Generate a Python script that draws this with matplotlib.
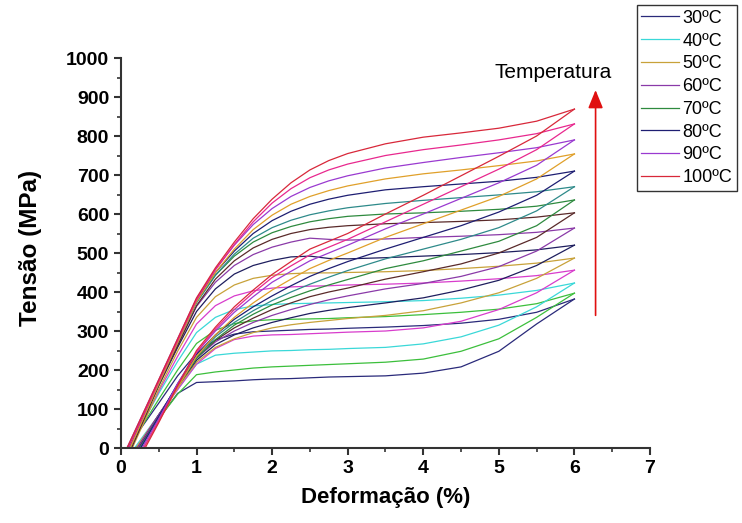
import matplotlib
matplotlib.use('Agg')
import matplotlib.pyplot as plt
from matplotlib.ticker import MultipleLocator

plt.rcParams['font.family'] = ['Liberation Sans', 'DejaVu Sans']

# strain grid (%) shared by all curves, start strain kept per curve
strain_grid = [0.5, 0.75, 1.0, 1.25, 1.5, 1.75, 2.0, 2.25, 2.5, 2.75, 3.0,
               3.5, 4.0, 4.5, 5.0, 5.5, 6.0]

temps = [30, 35, 40, 45, 50, 55, 60, 65, 70, 75, 80, 85, 90, 95, 100]
colors = ['#2a2a7a', '#3cbf3c', '#3ad8d8', '#d83ccc', '#c8a23a', '#1e1e5e',
          '#8a3aa8', '#5a2a2a', '#2e8a3e', '#2e8a8a', '#1e1e72', '#e0a02a',
          '#9a3ad0', '#e8288e', '#d8283a']

# upper branch (steep loading, high plateau)
start_b = [0.08, 0.10, 0.10, 0.12, 0.15, 0.12, 0.12, 0.14, 0.10, 0.12, 0.10, 0.12, 0.08, 0.10, 0.08]
stress_b = [
    [115, 185, 243, 277, 292, 298, 300, 302, 304, 305, 307, 310, 314, 320, 330, 348, 382],
    [125, 200, 268, 302, 319, 326, 329, 330, 331, 332, 334, 337, 342, 348, 356, 370, 397],
    [140, 222, 296, 335, 355, 364, 368, 370, 371, 372, 373, 375, 378, 384, 392, 404, 423],
    [145, 235, 318, 365, 390, 403, 410, 413, 415, 416, 418, 420, 423, 428, 434, 442, 456],
    [150, 248, 335, 388, 418, 435, 443, 447, 449, 449, 450, 452, 455, 460, 466, 474, 487],
    [160, 258, 350, 408, 446, 468, 481, 490, 492, 486, 485, 488, 492, 496, 501, 508, 520],
    [163, 265, 363, 425, 468, 496, 515, 528, 538, 535, 533, 536, 540, 543, 547, 553, 564],
    [160, 262, 365, 433, 480, 513, 535, 550, 560, 566, 570, 575, 578, 581, 585, 592, 603],
    [168, 272, 375, 443, 492, 528, 552, 568, 580, 588, 594, 600, 603, 607, 612, 620, 636],
    [165, 270, 372, 443, 497, 538, 565, 584, 598, 608, 616, 627, 635, 642, 649, 657, 670],
    [170, 275, 380, 450, 505, 550, 583, 607, 625, 638, 648, 662, 670, 677, 684, 694, 710],
    [165, 270, 375, 450, 510, 560, 597, 625, 645, 660, 672, 690, 703, 713, 724, 736, 754],
    [175, 280, 383, 458, 520, 573, 614, 645, 668, 685, 698, 718, 732, 745, 757, 770, 790],
    [170, 275, 380, 457, 522, 580, 628, 665, 693, 713, 728, 750, 765, 777, 790, 806, 831],
    [175, 280, 385, 462, 528, 588, 638, 680, 713, 737, 755, 780, 797, 808, 820, 838, 869],
]

# lower branch (softer slope, lower plateau, stronger hardening)
start_a = [0.22, 0.20, 0.18, 0.20, 0.20, 0.22, 0.22, 0.24, 0.26, 0.25, 0.26, 0.30, 0.28, 0.30, 0.32]
stress_a = [
    [75, 140, 168, 170, 172, 175, 177, 178, 180, 182, 183, 185, 192, 208, 248, 318, 382],
    [75, 138, 188, 195, 200, 205, 208, 210, 212, 214, 216, 220, 228, 248, 280, 335, 397],
    [85, 150, 215, 238, 243, 246, 249, 250, 252, 253, 255, 258, 267, 285, 315, 362, 423],
    [85, 150, 215, 255, 278, 287, 290, 291, 293, 295, 297, 300, 308, 325, 355, 398, 456],
    [85, 155, 220, 258, 280, 296, 308, 316, 322, 327, 332, 340, 352, 372, 398, 435, 487],
    [85, 158, 225, 265, 290, 308, 322, 334, 345, 353, 360, 372, 385, 405, 430, 468, 520],
    [85, 160, 230, 272, 300, 322, 340, 355, 368, 380, 390, 408, 422, 440, 465, 505, 564],
    [80, 160, 232, 276, 308, 333, 355, 372, 388, 400, 410, 433, 452, 472, 500, 540, 603],
    [78, 158, 230, 278, 315, 343, 367, 386, 403, 418, 432, 460, 480, 505, 530, 570, 636],
    [80, 162, 235, 285, 322, 352, 378, 400, 420, 438, 455, 485, 510, 535, 565, 608, 670],
    [80, 165, 240, 290, 330, 362, 390, 416, 440, 460, 478, 510, 540, 570, 605, 648, 710],
    [68, 155, 235, 290, 335, 372, 405, 433, 460, 481, 500, 540, 575, 610, 645, 690, 754],
    [75, 165, 245, 300, 348, 388, 425, 453, 480, 500, 520, 562, 600, 640, 680, 725, 790],
    [70, 160, 245, 305, 355, 398, 437, 467, 495, 515, 535, 580, 625, 670, 715, 765, 831],
    [65, 160, 250, 310, 362, 405, 445, 478, 510, 530, 550, 600, 648, 698, 748, 800, 869],
]

legend_temps = [30, 40, 50, 60, 70, 80, 90, 100]

fig = plt.figure(figsize=(7.42, 5.23), dpi=100)
ax = fig.add_axes([0.163, 0.1434, 0.713, 0.7457])

for i, t in enumerate(temps):
    xa = [start_a[i]] + strain_grid
    ya = [0] + stress_a[i]
    xb = [start_b[i]] + strain_grid
    yb = [0] + stress_b[i]
    lab = '%dºC' % t if t in legend_temps else None
    ax.plot(xa, ya, color=colors[i], lw=0.9)
    ax.plot(xb, yb, color=colors[i], lw=0.9, label=lab)

ax.set_xlim(0, 7)
ax.set_ylim(0, 1000)
ax.xaxis.set_major_locator(MultipleLocator(1))
ax.xaxis.set_minor_locator(MultipleLocator(0.5))
ax.yaxis.set_major_locator(MultipleLocator(100))
ax.yaxis.set_minor_locator(MultipleLocator(50))
for s in ['top', 'right']:
    ax.spines[s].set_visible(False)
for s in ['left', 'bottom']:
    ax.spines[s].set_linewidth(1.5)
    ax.spines[s].set_color('#333333')
ax.tick_params(which='major', direction='out', length=5, width=1.5, color='#333333',
               labelsize=14)
ax.tick_params(which='minor', direction='out', length=3, width=1.2, color='#333333')
for lbl in ax.get_xticklabels() + ax.get_yticklabels():
    lbl.set_fontweight('bold')

ax.set_xlabel('Deformação (%)', fontsize=16, fontweight='bold')
ax.set_ylabel('Tensão (MPa)', fontsize=17.5, fontweight='bold')
ax.xaxis.set_label_coords(0.501, -0.100)
ax.yaxis.set_label_coords(-0.150, 0.513)

# temperature arrow
ax.annotate('', xy=(6.28, 925), xytext=(6.28, 333),
            arrowprops=dict(arrowstyle='-|>,head_length=1.1,head_width=0.45',
                            color='#e01010', lw=1.2))
ax.text(5.72, 964, 'Temperatura', fontsize=15, ha='center', va='center')

leg = fig.legend(loc='upper right', bbox_to_anchor=(0.993, 0.990), fontsize=13,
                 handlelength=2.1, handletextpad=0.2, labelspacing=0.32,
                 borderpad=0.25, borderaxespad=0, fancybox=False,
                 edgecolor='#333333', framealpha=1)
leg.get_frame().set_linewidth(1.0)

fig.savefig('out.png', dpi=100)
